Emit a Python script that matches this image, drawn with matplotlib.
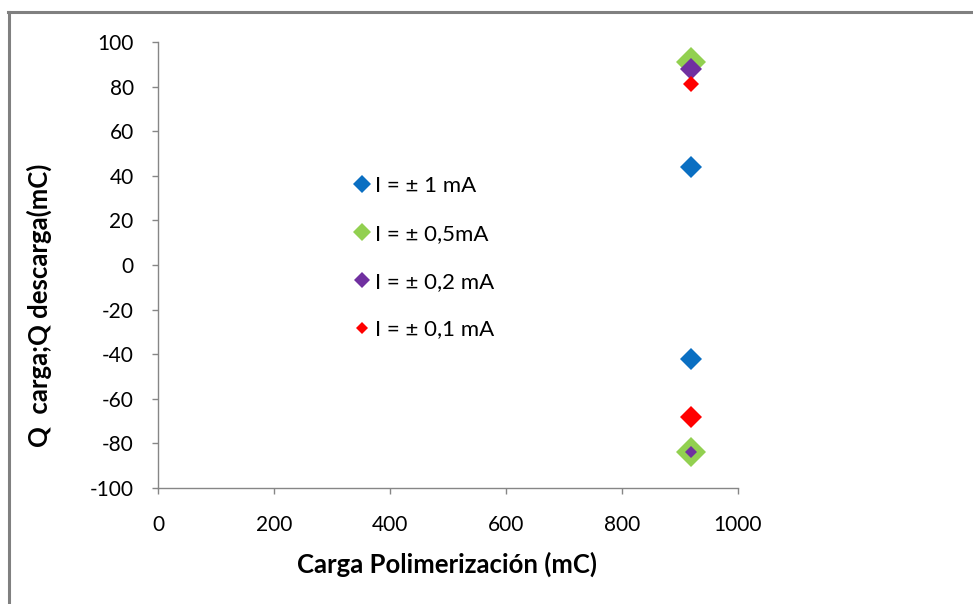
import matplotlib
matplotlib.use("Agg")
import matplotlib.pyplot as plt
from matplotlib.lines import Line2D

# Charge/discharge results for each applied current
series_labels = ["I = ± 1 mA", "I = ± 0,5mA", "I = ± 0,2 mA", "I = ± 0,1 mA"]
q_polimerizacion = [919, 919]          # mC, same polymerisation charge for all runs
q_blue = [44, -42]                     # I = ±1 mA
q_green = [91, -84]                    # I = ±0.5 mA
q_purple = [88, -84]                   # I = ±0.2 mA
q_red = [81, -68]                      # I = ±0.1 mA
x_ticks = [0, 200, 400, 600, 800, 1000]
y_ticks = [-100, -80, -60, -40, -20, 0, 20, 40, 60, 80, 100]

series_values = [q_blue, q_green, q_purple, q_red]
colors = ["#0A6FC2", "#92D050", "#7030A0", "#FF0000"]
# marker sizes (points) for the upper and lower points of each series
point_sizes = [[11, 11], [15, 15], [11, 6], [8, 11]]
legend_sizes = [9, 9, 8.5, 6.5]

plt.rcParams["font.family"] = ["Lato", "DejaVu Sans"]

fig = plt.figure(figsize=(9.73, 6.04), dpi=100)
ax = fig.add_axes([0.1624, 0.192, 0.596, 0.7384])

for vals, col, sizes in zip(series_values, colors, point_sizes):
    for xv, yv, ms in zip(q_polimerizacion, vals, sizes):
        ax.plot([xv], [yv], linestyle="none", marker="D", markersize=ms,
                color=col, markeredgewidth=0, clip_on=False)

ax.set_xlim(0, 1000)
ax.set_ylim(-100, 100)
ax.set_xticks(x_ticks)
ax.set_yticks(y_ticks)
ax.set_xticklabels([str(v) for v in x_ticks])
ax.set_yticklabels([str(v) for v in y_ticks])

for side in ("top", "right"):
    ax.spines[side].set_visible(False)
for side in ("left", "bottom"):
    ax.spines[side].set_color("#868686")
    ax.spines[side].set_linewidth(1.0)

ax.tick_params(axis="both", direction="out", length=4.5, width=1.0,
               color="#868686", labelsize=15, labelcolor="black")
ax.tick_params(axis="y", pad=13)
ax.tick_params(axis="x", pad=15)

ax.set_xlabel("Carga Polimerización (mC)", fontsize=18.5, fontweight="bold")
ax.set_ylabel("Q  carga;Q descarga(mC)", fontsize=18.5, fontweight="bold")
ax.xaxis.set_label_coords(0.498, -0.143)
ax.yaxis.set_label_coords(-0.183, 0.41)

handles = [Line2D([], [], linestyle="none", marker="D", markersize=s,
                  color=c, markeredgewidth=0)
           for c, s in zip(colors, legend_sizes)]
ax.legend(handles, series_labels, loc="upper left",
          bbox_to_anchor=(0.325, 0.719), frameon=False, fontsize=16,
          handlelength=0.6, handletextpad=0.3, labelspacing=1.25,
          borderaxespad=0)

# outer chart border (left and top edges)
fig.add_artist(Line2D([0.0093, 0.0093], [0.0, 0.9805], transform=fig.transFigure,
                      color="#808080", linewidth=2.2))
fig.add_artist(Line2D([0.0082, 1.0], [0.9805, 0.9805], transform=fig.transFigure,
                      color="#808080", linewidth=2.2))

fig.savefig("out.png", dpi=100, facecolor="white")
